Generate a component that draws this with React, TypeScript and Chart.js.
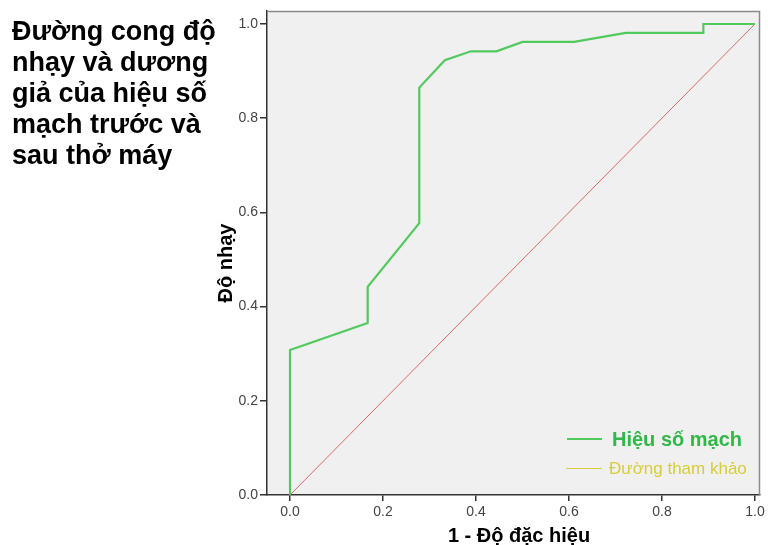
import React, { useEffect, useRef } from "react";
import { Chart, registerables } from "chart.js";

Chart.register(...registerables);

const titleLines = ["Đường cong độ", "nhạy và dương", "giả của hiệu số", "mạch trước và", "sau thở máy"];
const xTitle = "1 - Độ đặc hiệu";
const yTitle = "Độ nhạy";
const seriesName = "Hiệu số mạch";
const refName = "Đường tham khảo";

const fpr = [0, 0, 0.167, 0.167, 0.278, 0.278, 0.333, 0.389, 0.444, 0.5, 0.611, 0.722, 0.889, 0.889, 1.0];
const tpr = [0, 0.308, 0.365, 0.442, 0.577, 0.865, 0.923, 0.942, 0.942, 0.962, 0.962, 0.981, 0.981, 1.0, 1.0];
const refX = [0, 1];
const refY = [0, 1];
const tickValues = [0, 0.2, 0.4, 0.6, 0.8, 1.0];

const FONT = "'Liberation Sans', Arial, sans-serif";
const GREEN_LINE = "#52c95d";
const GREEN_TEXT = "#30b848";
const YELLOW = "#d6cd3a";
const RED = "#d66a66";

const decorPlugin = {
  id: "decor",
  beforeDraw(chart: any) {
    const { ctx, chartArea: a } = chart;
    ctx.save();
    ctx.fillStyle = "#ffffff";
    ctx.fillRect(0, 0, chart.width, chart.height);
    ctx.fillStyle = "#f0f0f0";
    ctx.fillRect(a.left, a.top, a.right - a.left, a.bottom - a.top);
    ctx.restore();
  },
  afterDraw(chart: any) {
    const { ctx, chartArea: a } = chart;
    ctx.save();
    // top & right border
    ctx.strokeStyle = "#8a8a8a";
    ctx.lineWidth = 1.5;
    ctx.beginPath();
    ctx.moveTo(a.left, a.top + 0.5);
    ctx.lineTo(a.right - 0.5, a.top + 0.5);
    ctx.lineTo(a.right - 0.5, a.bottom);
    ctx.stroke();

    // left title
    ctx.fillStyle = "#000000";
    ctx.font = `bold 27px ${FONT}`;
    ctx.textAlign = "left";
    ctx.textBaseline = "alphabetic";
    titleLines.forEach((t, i) => ctx.fillText(t, 12, 40 + i * 31));

    // x title
    ctx.font = `bold 20px ${FONT}`;
    ctx.textAlign = "center";
    ctx.fillText(xTitle, 519, 542);

    // y title
    ctx.save();
    ctx.translate(226, 263);
    ctx.rotate(-Math.PI / 2);
    ctx.textBaseline = "middle";
    ctx.fillText(yTitle, 0, 0);
    ctx.restore();

    // legend
    ctx.strokeStyle = GREEN_LINE;
    ctx.lineWidth = 2;
    ctx.beginPath();
    ctx.moveTo(567, 439);
    ctx.lineTo(602, 439);
    ctx.stroke();
    ctx.fillStyle = GREEN_TEXT;
    ctx.font = `bold 20px ${FONT}`;
    ctx.textAlign = "left";
    ctx.textBaseline = "alphabetic";
    ctx.fillText(seriesName, 612, 446);

    ctx.strokeStyle = YELLOW;
    ctx.lineWidth = 1;
    ctx.beginPath();
    ctx.moveTo(566, 468.5);
    ctx.lineTo(602, 468.5);
    ctx.stroke();
    ctx.fillStyle = YELLOW;
    ctx.font = `17px ${FONT}`;
    ctx.fillText(refName, 609, 474);
    ctx.restore();
  },
};

export default function App() {
  const ref = useRef<HTMLCanvasElement | null>(null);
  useEffect(() => {
    if (!ref.current) return;
    const chart = new Chart(ref.current, {
      type: "scatter",
      data: {
        datasets: [
          {
            label: seriesName,
            data: fpr.map((x, i) => ({ x, y: tpr[i] })),
            showLine: true,
            borderColor: GREEN_LINE,
            borderWidth: 2.2,
            pointRadius: 0,
            tension: 0,
          },
          {
            label: refName,
            data: refX.map((x, i) => ({ x, y: refY[i] })),
            showLine: true,
            borderColor: RED,
            borderWidth: 1,
            pointRadius: 0,
          },
        ],
      },
      plugins: [decorPlugin],
      options: {
        animation: false,
        responsive: false,
        devicePixelRatio: 1,
        layout: { padding: { top: 11, right: 8, left: 0, bottom: 0 } },
        plugins: { legend: { display: false }, tooltip: { enabled: false }, title: { display: false } },
        scales: {
          x: {
            type: "linear",
            min: -0.0495,
            max: 1.0108,
            afterFit: (s: any) => { s.height = 50; },
            afterBuildTicks: (s: any) => { s.ticks = tickValues.map((v) => ({ value: v })); },
            grid: { drawOnChartArea: false, drawTicks: true, tickLength: 6, color: "#333333", lineWidth: 1.5 },
            border: { display: true, color: "#333333", width: 1.5 },
            ticks: {
              padding: 3,
              color: "#444444",
              font: { family: FONT, size: 14 },
              maxRotation: 0,
              autoSkip: false,
              callback: (v: any) => Number(v).toFixed(1),
            },
          },
          y: {
            type: "linear",
            min: 0,
            max: 1.0276,
            afterFit: (s: any) => { s.width = 267; },
            afterBuildTicks: (s: any) => { s.ticks = tickValues.map((v) => ({ value: v })); },
            grid: { drawOnChartArea: false, drawTicks: true, tickLength: 7, color: "#333333", lineWidth: 1.5 },
            border: { display: true, color: "#333333", width: 1.5 },
            ticks: {
              padding: 2,
              color: "#444444",
              font: { family: FONT, size: 14 },
              autoSkip: false,
              callback: (v: any) => Number(v).toFixed(1),
            },
          },
        },
      },
    } as any);
    return () => chart.destroy();
  }, []);
  return (
    <div style={{ position: "absolute", left: 0, top: 0, width: 768, height: 545, background: "#fff" }}>
      <canvas ref={ref} width={768} height={545} style={{ width: 768, height: 545, display: "block" }} />
    </div>
  );
}
